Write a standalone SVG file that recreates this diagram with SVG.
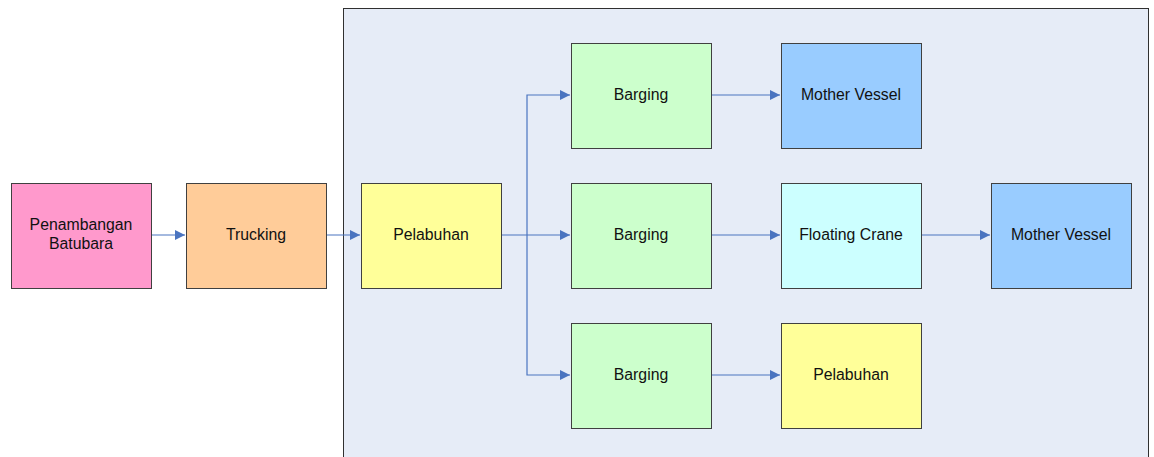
<svg xmlns="http://www.w3.org/2000/svg" width="1154" height="457" viewBox="0 0 1154 457">
  <defs>
    <style>
      .box { stroke: #404040; stroke-width: 1; }
      .lbl { font-family: "Liberation Sans", Arial, sans-serif; font-size: 15.8px; fill: #111; text-anchor: middle; dominant-baseline: central; }
      .conn { fill: none; stroke: #4a74c0; stroke-width: 1.2; }
    </style>
    <marker id="arrow" viewBox="0 0 10 10" refX="10" refY="5" markerWidth="10" markerHeight="10" markerUnits="userSpaceOnUse" orient="auto">
      <path d="M0,0 L10,5 L0,10 Z" fill="#4a74c0"/>
    </marker>
  </defs>

  <rect width="1154" height="457" fill="#ffffff"/>

  <!-- port area container -->
  <g id="container">
    <rect x="343.5" y="8.5" width="805" height="460" fill="#e6ecf7" stroke="#303030" stroke-width="1"/>
  </g>

  <g id="connectors">
    <path class="conn" d="M151,235 H185" marker-end="url(#arrow)"/>
    <path class="conn" d="M326,235 H360" marker-end="url(#arrow)"/>
    <path class="conn" d="M501,235 H570" marker-end="url(#arrow)"/>
    <path class="conn" d="M527,235 V95 H570" marker-end="url(#arrow)"/>
    <path class="conn" d="M527,235 V375 H570" marker-end="url(#arrow)"/>
    <path class="conn" d="M711,95 H780" marker-end="url(#arrow)"/>
    <path class="conn" d="M711,235 H780" marker-end="url(#arrow)"/>
    <path class="conn" d="M711,375 H780" marker-end="url(#arrow)"/>
    <path class="conn" d="M921,235 H990" marker-end="url(#arrow)"/>
  </g>

  <g id="penambangan">
    <rect class="box" x="11.5" y="183.5" width="140" height="105" fill="#ff99cc"/>
    <text class="lbl" x="81" y="224.5">Penambangan</text>
    <text class="lbl" x="81" y="243">Batubara</text>
  </g>
  <g id="trucking">
    <rect class="box" x="186.5" y="183.5" width="140" height="105" fill="#ffcc99"/>
    <text class="lbl" x="256" y="234">Trucking</text>
  </g>
  <g id="pelabuhan1">
    <rect class="box" x="361.5" y="183.5" width="140" height="105" fill="#ffff99"/>
    <text class="lbl" x="431" y="234">Pelabuhan</text>
  </g>
  <g id="barging1">
    <rect class="box" x="571.5" y="43.5" width="140" height="105" fill="#ccffcc"/>
    <text class="lbl" x="641" y="94">Barging</text>
  </g>
  <g id="barging2">
    <rect class="box" x="571.5" y="183.5" width="140" height="105" fill="#ccffcc"/>
    <text class="lbl" x="641" y="234">Barging</text>
  </g>
  <g id="barging3">
    <rect class="box" x="571.5" y="323.5" width="140" height="105" fill="#ccffcc"/>
    <text class="lbl" x="641" y="374">Barging</text>
  </g>
  <g id="mother-vessel1">
    <rect class="box" x="781.5" y="43.5" width="140" height="105" fill="#99ccff"/>
    <text class="lbl" x="851" y="94">Mother Vessel</text>
  </g>
  <g id="floating-crane">
    <rect class="box" x="781.5" y="183.5" width="140" height="105" fill="#ccffff"/>
    <text class="lbl" x="851" y="234">Floating Crane</text>
  </g>
  <g id="pelabuhan2">
    <rect class="box" x="781.5" y="323.5" width="140" height="105" fill="#ffff99"/>
    <text class="lbl" x="851" y="374">Pelabuhan</text>
  </g>
  <g id="mother-vessel2">
    <rect class="box" x="991.5" y="183.5" width="140" height="105" fill="#99ccff"/>
    <text class="lbl" x="1061" y="234">Mother Vessel</text>
  </g>
</svg>
